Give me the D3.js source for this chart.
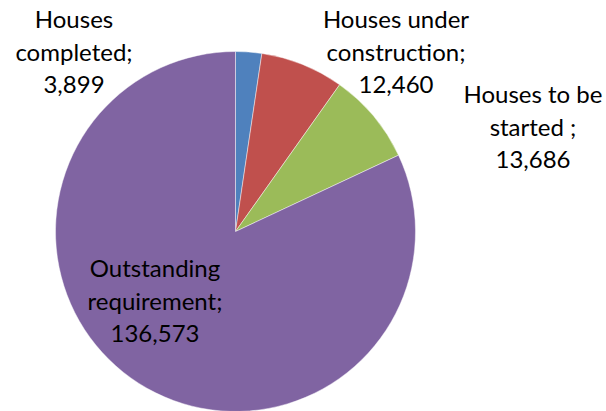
<!DOCTYPE html>
<meta charset="utf-8" />
<script src="https://d3js.org/d3.v7.min.js"></script>
<style>
  body { margin: 0; background: #fff; }
  .lbl { font-family: Lato, "Open Sans", sans-serif; font-size: 24px; fill: #000; }
</style>
<body>
<svg id="chart" width="606" height="411"></svg>
<script>
  // data
  const categories = ["Houses completed", "Houses under construction", "Houses to be started", "Outstanding requirement"];
  const values = [3899, 12460, 13686, 136573];
  const colors = ["#4F81BD", "#C0504D", "#9BBB59", "#8064A2"];
  // label text lines, as printed on the chart
  const labelLines = [
    ["Houses", "completed;", "3,899"],
    ["Houses under", "construction;", "12,460"],
    ["Houses to be", "started ;", "13,686"],
    ["Outstanding", "requirement;", "136,573"]
  ];
  // where each label block sits (centre x, first baseline y)
  const labelPos = [[74, 28], [396, 28], [533, 103], [155, 277]];

  const svg = d3.select("#chart");
  const cx = 235.5, cy = 231.5, radius = 180;

  const pie = d3.pie().sort(null).value(d => d);
  const arc = d3.arc().innerRadius(0).outerRadius(radius);

  const g = svg.append("g").attr("transform", `translate(${cx},${cy})`);
  g.selectAll("path")
    .data(pie(values))
    .join("path")
    .attr("d", arc)
    .attr("fill", (d, i) => colors[i])
    .attr("stroke", "#fff")
    .attr("stroke-opacity", 0.6)
    .attr("stroke-width", 0.75);

  // labels
  const lineH = 32.5;
  labelLines.forEach((lines, i) => {
    const t = svg.append("text")
      .attr("class", "lbl")
      .attr("text-anchor", "middle")
      .attr("x", labelPos[i][0])
      .attr("y", labelPos[i][1]);
    lines.forEach((s, j) => {
      t.append("tspan")
        .attr("x", labelPos[i][0])
        .attr("y", labelPos[i][1] + j * lineH)
        .text(s);
    });
  });
</script>
</body>
